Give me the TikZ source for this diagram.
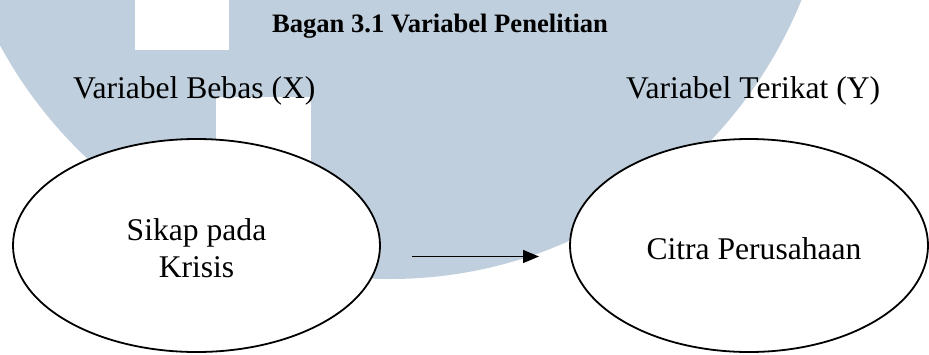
\documentclass[tikz,border=0pt]{standalone}
\usepackage{fontspec}
\setmainfont{Liberation Serif}
\usetikzlibrary{arrows.meta,shapes.geometric}
\definecolor{wmblue}{RGB}{191,207,221}
\tikzset{
  wm/.style={fill=wmblue},
  varbox/.style={ellipse, draw=black, line width=1.8pt, fill=white, inner sep=0pt},
  lbl/.style={inner sep=0pt, anchor=base west, font=\fontsize{31.6}{36}\selectfont},
  intext/.style={inner sep=0pt, anchor=base, font=\fontsize{31.6}{37}\selectfont, align=center},
  ttl/.style={inner sep=0pt, anchor=base, font=\fontsize{26.6}{32}\selectfont\bfseries},
  conn/.style={line width=1.3pt, -{Triangle[length=16pt,width=13pt]}}
}
\begin{document}
\begin{tikzpicture}[x=1pt,y=-1pt]
\useasboundingbox (0,0) rectangle (929,354);
% watermark
\begin{scope}
  \clip (0,0) rectangle (929,354);
  \fill[wm] (390,-172) ellipse [x radius=445pt, y radius=451pt];
  \fill[white] (135,0) rectangle (229,50);
  \fill[white] (216,97) rectangle (311,220);
\end{scope}
% title and headings
\node[ttl] (title) at (440,32) {Bagan 3.1 Variabel Penelitian};
\node[lbl] (hx) at (73,98) {Variabel Bebas (X)};
\node[lbl] (hy) at (626,98) {Variabel Terikat (Y)};
% ellipses
\node[varbox, minimum width=367pt, minimum height=213pt] (x) at (196.5,245.5) {};
\node[varbox, minimum width=358pt, minimum height=213pt] (y) at (749,245.5) {};
\node[intext] (xt) at (196.5,240) {Sikap pada};
\node[intext] (xt2) at (196.5,277) {Krisis};
\node[intext] (yt) at (754,259) {Citra Perusahaan};
% arrow
\coordinate (a1) at (412,256.5);
\coordinate (a2) at (539,256.5);
\draw[conn] (a1) -- (a2);
\end{tikzpicture}
\end{document}
